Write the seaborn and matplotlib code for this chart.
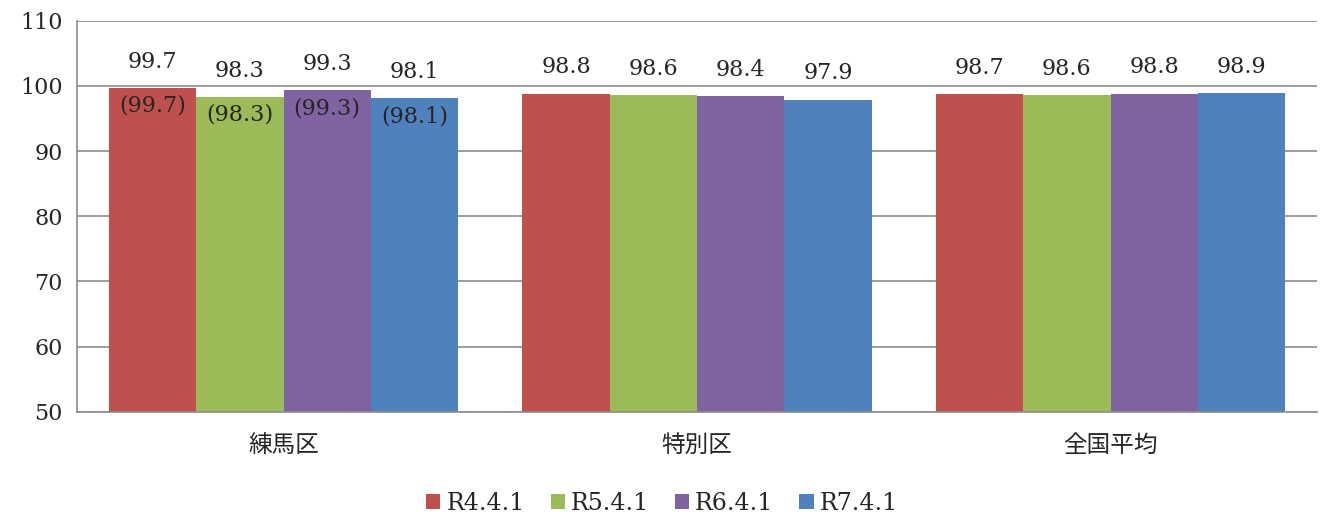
import numpy as np
import pandas as pd
import matplotlib
matplotlib.use("Agg")
import matplotlib.pyplot as plt
import seaborn as sns

# データ
categories = ["練馬区", "特別区", "全国平均"]
series = ["R4.4.1", "R5.4.1", "R6.4.1", "R7.4.1"]
r4 = [99.7, 98.8, 98.7]
r5 = [98.3, 98.6, 98.6]
r6 = [99.3, 98.4, 98.8]
r7 = [98.1, 97.9, 98.9]
y_ticks = [50, 60, 70, 80, 90, 100, 110]
colors = ["#C0504D", "#9BBB59", "#8064A2", "#4F81BD"]

values = [r4, r5, r6, r7]
rows = []
for s, vals in zip(series, values):
    for c, v in zip(categories, vals):
        rows.append({"category": c, "series": s, "value": v})
df = pd.DataFrame(rows)

sns.set_style("white")
plt.rcParams["font.family"] = ["DejaVu Serif", "Noto Sans CJK JP", "DejaVu Sans"]

fig, ax = plt.subplots(figsize=(13.24, 5.18), dpi=100)
fig.subplots_adjust(left=0.058, right=0.995, top=0.96, bottom=0.205)

sns.barplot(data=df, x="category", y="value", hue="series", palette=colors,
            width=0.845, saturation=1, ax=ax, legend=True, linewidth=0)

ax.set_ylim(50, 110)
ax.set_yticks(y_ticks)
ax.yaxis.grid(True, color="#8c8c8c", linewidth=1.2)
ax.set_axisbelow(True)
for side in ["top", "right"]:
    ax.spines[side].set_visible(False)
ax.spines["left"].set_color("#8c8c8c")
ax.spines["bottom"].set_color("#8c8c8c")
ax.spines["left"].set_linewidth(1.2)
ax.spines["bottom"].set_linewidth(1.2)
ax.tick_params(axis="y", length=0, labelsize=16, pad=10)
ax.tick_params(axis="x", length=0, labelsize=17, pad=16)
ax.set_xlabel("")
ax.set_ylabel("")

# ラベル
for ci, container in enumerate(ax.containers):
    for bi, bar in enumerate(container):
        v = values[ci][bi]
        x = bar.get_x() + bar.get_width() / 2
        ax.annotate(f"{v:.1f}", (x, v), xytext=(0, 11), textcoords="offset points",
                    ha="center", va="bottom", fontsize=16)
        if bi == 0:
            ax.annotate(f"({v:.1f})", (x, v), xytext=(0, -5), textcoords="offset points",
                        ha="center", va="top", fontsize=16)

handles, labels = ax.get_legend_handles_labels()
ax.get_legend().remove()
fig.legend(handles, labels, loc="center", bbox_to_anchor=(0.5, 0.028), ncol=4,
           frameon=False, fontsize=17, handlelength=0.6, handleheight=0.6,
           handletextpad=0.25, columnspacing=1.1, borderpad=0)

fig.savefig("out.png", dpi=100)
